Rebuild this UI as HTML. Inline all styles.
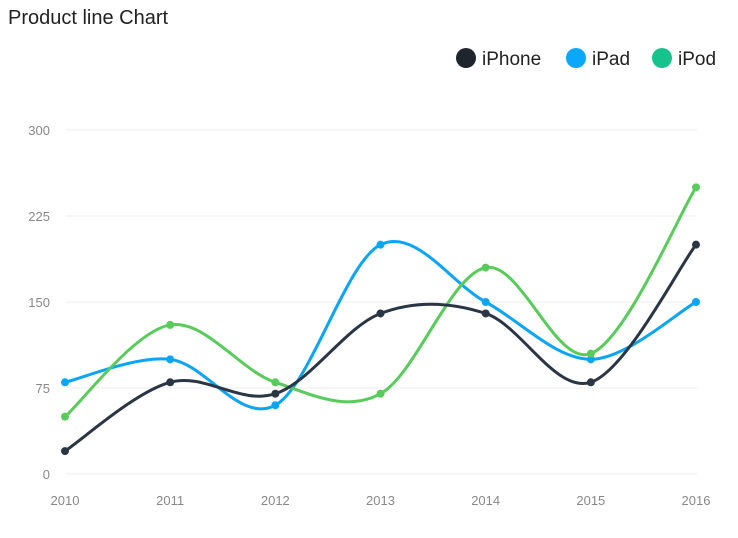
<!DOCTYPE html>
<html><head><meta charset="utf-8"><style>
body{margin:0;background:#fff;width:738px;height:533px;overflow:hidden;font-family:"Liberation Sans",sans-serif}
</style></head><body>
<svg id="c" width="738" height="533">
<text x="8" y="24" font-size="20" fill="#222">Product line Chart</text>
<g id="legend"></g>
<g id="grid"></g>
<g id="series"></g>
</svg>
<script>
const categories=["2010","2011","2012","2013","2014","2015","2016"];
const iphone=[20,80,70,140,140,80,200];
const ipad=[80,100,60,200,150,100,150];
const ipod=[50,130,80,70,180,105,250];
const yTicks=[0,75,150,225,300];
const seriesNames=["iPhone","iPad","iPod"];
const NS="http://www.w3.org/2000/svg";
const x0=65,x1=696,y0=474,y1=130;
const xs=i=>x0+(x1-x0)*i/(categories.length-1);
const ys=v=>y0-(y0-y1)*v/300;
function mk(t,a,p){const e=document.createElementNS(NS,t);for(const k in a)e.setAttribute(k,a[k]);p.appendChild(e);return e;}
const grid=document.getElementById('grid');
yTicks.forEach(v=>{
 const l=mk('line',{x1:66,x2:697,y1:ys(v),y2:ys(v),stroke:'#eeeeee','stroke-width':1},grid);
 
 
 const t=mk('text',{x:50,y:ys(v)+5,'text-anchor':'end','font-size':13,fill:'#888'},grid);
 t.textContent=v;
 
 
});
categories.forEach((c,i)=>{
 const t=mk('text',{x:xs(i),y:505,'text-anchor':'middle','font-size':13,fill:'#888'},grid);
 t.textContent=c;
 
 
});
const sg=document.getElementById('series');
function draw(vals,color,name){
 const p=vals.map((v,i)=>[xs(i),ys(v)]);
 let d='M'+p[0][0]+','+p[0][1];
 for(let i=0;i<p.length-1;i++){
  const a=p[i-1]||p[i],b=p[i],c=p[i+1],e=p[i+2]||c;
  const t=6;
  d+=` C${b[0]+(c[0]-a[0])/t},${b[1]+(c[1]-a[1])/t} ${c[0]-(e[0]-b[0])/t},${c[1]-(e[1]-b[1])/t} ${c[0]},${c[1]}`;
 }
 const path=mk('path',{d:d,fill:'none',stroke:color,'stroke-width':3},sg);
 
 
 p.forEach((q,i)=>{
  const c=mk('circle',{cx:q[0],cy:q[1],r:4,fill:color},sg);
  
  
 });
}
draw(ipad,'#0ba5f5','ipad');
draw(ipod,'#58cc5a','ipod');
draw(iphone,'#2b3645','iphone');
const lg=document.getElementById('legend');
const lc=['#1f252d','#0aa8fa','#16c38c'];
const lx=[466,576,662];
seriesNames.forEach((n,i)=>{
 const c=mk('circle',{cx:lx[i],cy:58,r:10,fill:lc[i]},lg);
 
 
 const t=mk('text',{x:lx[i]+16,y:65,'font-size':19,fill:'#222'},lg);
 t.textContent=n;
 
 
});
</script>
</body></html>
